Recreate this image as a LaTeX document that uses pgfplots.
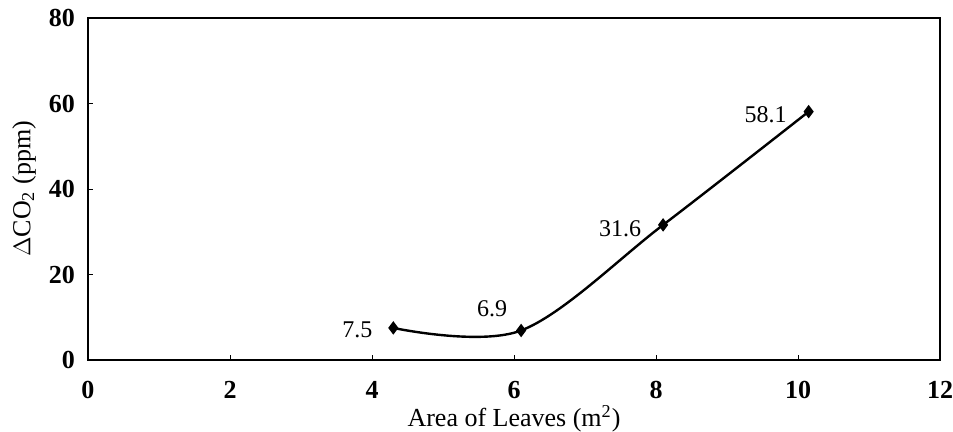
\documentclass[border=0pt]{standalone}
\usepackage{pgfplots}
\pgfplotsset{compat=1.18}
\usepackage{fontspec}
\setmainfont{Liberation Serif}
\begin{document}
\begin{tikzpicture}
\begin{axis}[
  name=ax,
  scale only axis,
  width=426pt, height=171pt,
  xmin=0, xmax=12, ymin=0, ymax=80,
  xtick={0,2,...,12}, ytick={0,20,...,80},
  tick pos=left,
  tick align=inside,
  major tick length=2.5pt,
  every tick/.style={black, thin},
  axis line style={black, line width=0.7pt},
  /pgf/number format/assume math mode=true,
  ticklabel style={font=\fontsize{13}{15}\selectfont\bfseries},
  xticklabel style={yshift=-7pt},
  yticklabel style={xshift=-3pt},
  xlabel={Area of Leaves (m\textsuperscript{2})},
  ylabel={$\Delta$CO\textsubscript{2} (ppm)},
  label style={font=\fontsize{13}{15}\selectfont},
  xlabel style={at={([yshift=-29.5pt]axis description cs:0.5,0)}, anchor=center},
  ylabel style={at={([xshift=-32pt]axis description cs:0,0.5)}, anchor=center},
  clip=false,
]
\addplot[black, line width=1.2pt, smooth, tension=0.55, mark=diamond*, mark size=2.4pt, mark options={solid}]
  coordinates {(4.3,7.5) (6.1,6.9) (8.1,31.6) (10.15,58.1)};
\begin{scope}[font=\fontsize{12}{14}\selectfont]
\node at ([xshift=-18pt,yshift=-1pt]axis cs:4.3,7.5) {7.5};
\node at ([xshift=-14.5pt,yshift=11pt]axis cs:6.1,6.9) {6.9};
\node at ([xshift=-21.5pt,yshift=-2pt]axis cs:8.1,31.6) {31.6};
\node at ([xshift=-21.5pt,yshift=-1.5pt]axis cs:10.15,58.1) {58.1};
\end{scope}
\end{axis}
\pgfresetboundingbox
\path ([shift={(-44pt,-36pt)}]ax.south west) rectangle ([shift={(6.5pt,9pt)}]ax.north east);
\end{tikzpicture}
\end{document}
